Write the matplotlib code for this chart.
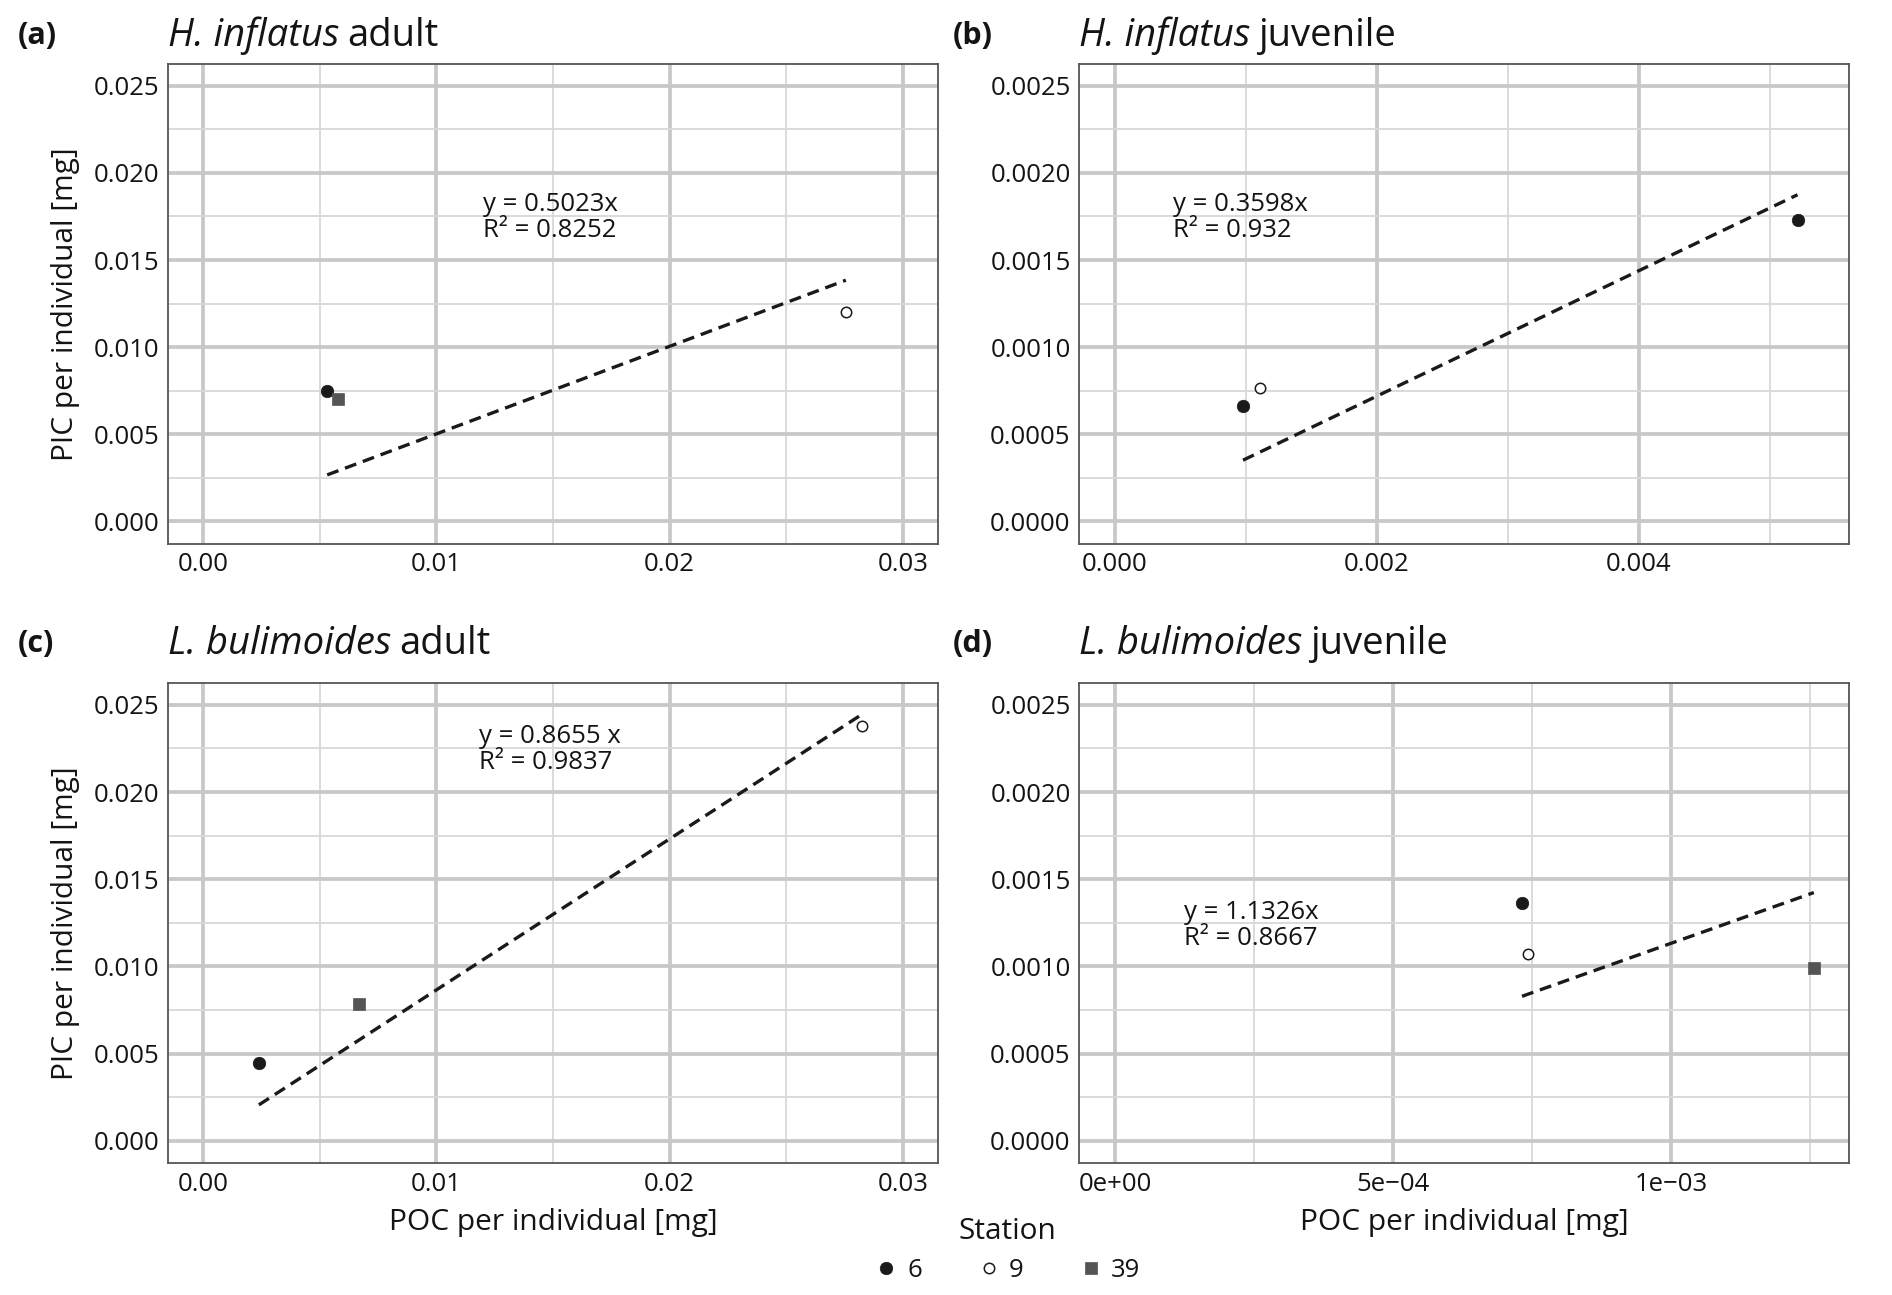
import matplotlib
matplotlib.use("Agg")
import matplotlib.pyplot as plt
from matplotlib.ticker import MultipleLocator, FixedLocator, FixedFormatter
from matplotlib.lines import Line2D
import numpy as np

plt.rcParams['font.family'] = ['Open Sans', 'DejaVu Sans']

# ---------------- data ----------------
stations = ["6", "9", "39"]

# (a) H. inflatus adult
a_poc = [0.00532, 0.02756, 0.00577]
a_pic = [0.00748, 0.01203, 0.00701]
a_slope = 0.5023
a_eq = ["y = 0.5023x", "R² = 0.8252"]

# (b) H. inflatus juvenile
b_poc = [0.000977, 0.00111, 0.00521]
b_pic = [0.00066, 0.000768, 0.00173]
b_st = ["6", "9", "6"]
b_slope = 0.3598
b_eq = ["y = 0.3598x", "R² = 0.932"]

# (c) L. bulimoides adult
c_poc = [0.00239, 0.02826, 0.0067]
c_pic = [0.00449, 0.02379, 0.00787]
c_slope = 0.8655
c_eq = ["y = 0.8655 x", "R² = 0.9837"]

# (d) L. bulimoides juvenile
d_poc = [0.000732, 0.000743, 0.001257]
d_pic = [0.001362, 0.001074, 0.00099]
d_slope = 1.1326
d_eq = ["y = 1.1326x", "R² = 0.8667"]

panel_letters = ["(a)", "(b)", "(c)", "(d)"]
species = ["H. inflatus", "H. inflatus", "L. bulimoides", "L. bulimoides"]
stages = ["adult", "juvenile", "adult", "juvenile"]

x_ticks_adult = [0.0, 0.01, 0.02, 0.03]
x_labels_adult = ["0.00", "0.01", "0.02", "0.03"]
y_ticks_adult = [0.0, 0.005, 0.010, 0.015, 0.020, 0.025]
y_labels_adult = ["0.000", "0.005", "0.010", "0.015", "0.020", "0.025"]
x_ticks_b = [0.0, 0.002, 0.004]
x_labels_b = ["0.000", "0.002", "0.004"]
x_ticks_d = [0.0, 0.0005, 0.001]
x_labels_d = ["0e+00", "5e\u221204", "1e\u221203"]
y_ticks_juv = [0.0, 0.0005, 0.0010, 0.0015, 0.0020, 0.0025]
y_labels_juv = ["0.0000", "0.0005", "0.0010", "0.0015", "0.0020", "0.0025"]

# ---------------- style ----------------
st_style = {
    "6": dict(marker="o", ms=9.0, mfc="#1a1a1a", mec="#1a1a1a", mew=0.5),
    "9": dict(marker="o", ms=7.5, mfc="white", mec="#1a1a1a", mew=1.1),
    "39": dict(marker="s", ms=8.0, mfc="#555555", mec="#555555", mew=0.5),
}
TXT = "#141414"

W, H = 1892, 1295
fig = plt.figure(figsize=(W / 100, H / 100), dpi=100)

def px_axes(l, t, r, b):
    return fig.add_axes([l / W, 1 - b / H, (r - l) / W, (b - t) / H])

ax_a = px_axes(168, 64.3, 938, 543.6)
ax_b = px_axes(1079, 64.3, 1849.4, 543.6)
ax_c = px_axes(168, 683.3, 938, 1163.3)
ax_d = px_axes(1079, 683.3, 1849.4, 1163.3)

panels = [
    (ax_a, a_poc, a_pic, ["6", "9", "39"], a_slope, a_eq,
     (-0.001506, 0.03151), (-0.00127, 0.02623),
     x_ticks_adult, x_labels_adult, 0.005, y_ticks_adult, y_labels_adult, 0.0025,
     (0.0120, 0.01744)),
    (ax_b, b_poc, b_pic, b_st, b_slope, b_eq,
     (-0.000275, 0.005606), (-0.000127, 0.002623),
     x_ticks_b, x_labels_b, 0.001, y_ticks_juv, y_labels_juv, 0.00025,
     (0.000445, 0.001744)),
    (ax_c, c_poc, c_pic, ["6", "9", "39"], c_slope, c_eq,
     (-0.001506, 0.03151), (-0.00128, 0.02623),
     x_ticks_adult, x_labels_adult, 0.005, y_ticks_adult, y_labels_adult, 0.0025,
     (0.01182, 0.02246)),
    (ax_d, d_poc, d_pic, ["6", "9", "39"], d_slope, d_eq,
     (-0.0000649, 0.001321), (-0.000128, 0.002623),
     x_ticks_d, x_labels_d, 0.00025, y_ticks_juv, y_labels_juv, 0.00025,
     (0.000124, 0.001234)),
]

for i, (ax, xs, ys, sts, slope, eq, xl, yl, xt, xtl, xminor, yt, ytl, yminor, eqpos) in enumerate(panels):
    ax.set_xlim(*xl)
    ax.set_ylim(*yl)
    ax.xaxis.set_major_locator(FixedLocator(xt))
    ax.xaxis.set_major_formatter(FixedFormatter(xtl))
    ax.yaxis.set_major_locator(FixedLocator(yt))
    ax.yaxis.set_major_formatter(FixedFormatter(ytl))
    ax.xaxis.set_minor_locator(MultipleLocator(xminor))
    ax.yaxis.set_minor_locator(MultipleLocator(yminor))
    ax.set_axisbelow(True)
    ax.grid(which="major", color="#c8c8c8", lw=2.7)
    ax.grid(which="minor", color="#d8d8d8", lw=1.3)
    ax.tick_params(which="both", length=0)
    ax.tick_params(axis="both", labelsize=18.5, colors=TXT, pad=6)
    for sp in ax.spines.values():
        sp.set_color("#555555")
        sp.set_linewidth(1.3)

    # regression line through origin
    xx = np.array([min(xs), max(xs)])
    ax.plot(xx, slope * xx, color="#1a1a1a", lw=2.4, ls=(0, (3.6, 2.1)), zorder=3)

    for x, y, s in zip(xs, ys, sts):
        ax.plot([x], [y], ls="none", zorder=4, **st_style[s])

    ax.text(eqpos[0], eqpos[1], eq[0] + "\n" + eq[1], fontsize=18.5, color=TXT,
            ha="left", va="center", linespacing=1.05)

# titles: italic species name followed by upright life stage
renderer = fig.canvas.get_renderer()
title_pos = [(18, 168, 36), (953, 1079, 36), (18, 168, 644), (953, 1079, 644)]
for (lx, tx, ty), letter, sp, stg in zip(title_pos, panel_letters, species, stages):
    fig.text(lx / W, 1 - ty / H, letter, fontsize=22, fontweight="bold",
             ha="left", va="center", color=TXT)
    t1 = fig.text(tx / W, 1 - ty / H, sp, fontsize=27.5, fontstyle="italic",
                  ha="left", va="center", color=TXT)
    bb = t1.get_window_extent(renderer=renderer)
    fig.text(bb.x1 / W + 8 / W, 1 - ty / H, stg, fontsize=27.5,
             ha="left", va="center", color=TXT)

# axis labels
for ax in (ax_a, ax_c):
    ax.set_ylabel("PIC per individual [mg]", fontsize=21.5, color=TXT, labelpad=10)
for ax in (ax_c, ax_d):
    ax.set_xlabel("POC per individual [mg]", fontsize=21.5, color=TXT, labelpad=8)

# legend
handles = [Line2D([], [], ls="none", **st_style[s]) for s in stations]
leg = fig.legend(handles, stations, title="Station", ncol=3, frameon=False,
                 loc="center", bbox_to_anchor=(1007 / W, 1 - 1250 / H),
                 fontsize=18.5, title_fontsize=21.5, columnspacing=2.1,
                 handletextpad=0.3, handlelength=1.0, alignment="center")
for t in leg.get_texts():
    t.set_color(TXT)
leg.get_title().set_color(TXT)

fig.savefig("out.png", dpi=100, facecolor="white")
